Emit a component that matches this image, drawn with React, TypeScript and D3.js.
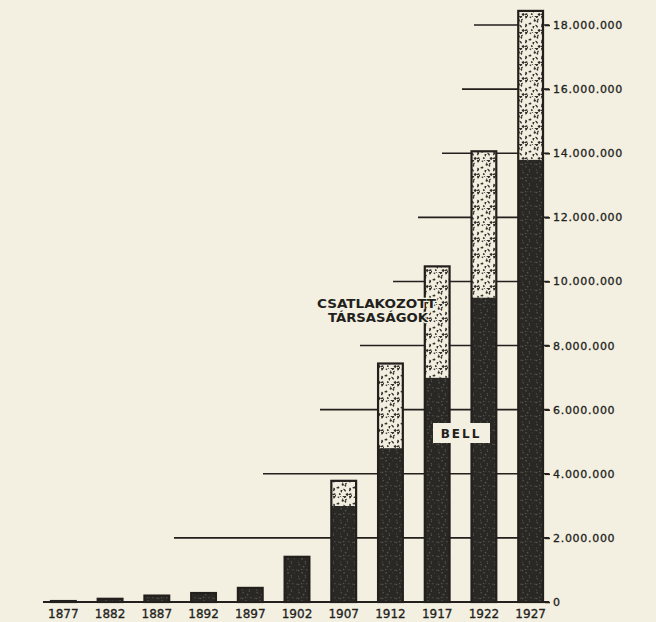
// App.tsx
// stacked bar chart: telephones of the Bell system and connected companies 1877-1927
import * as d3 from 'd3';
import React, { useRef, useEffect } from 'react';

const years = ['1877', '1882', '1887', '1892', '1897', '1902', '1907', '1912', '1917', '1922', '1927'];
// telephones, millions
const bell = [0.03, 0.1, 0.2, 0.28, 0.44, 1.41, 3.0, 4.8, 7.0, 9.5, 13.8];
const connected = [0, 0, 0, 0, 0, 0, 0.78, 2.64, 3.47, 4.56, 4.64];
const tickValues = [0, 2, 4, 6, 8, 10, 12, 14, 16, 18];
const tickLabels = ['0', '2.000.000', '4.000.000', '6.000.000', '8.000.000', '10.000.000', '12.000.000', '14.000.000', '16.000.000', '18.000.000'];

// where the leader lines start on the left (layout, for 2M..18M)
const gridFrom = [174, 263, 320, 360, 393, 418, 442, 462, 474];

const W = 656, H = 622;
const PAPER = '#f3efe1';
const INK = '#221f1c';

function Chart() {
    const ref = useRef<SVGSVGElement>(null);

    useEffect(() => {
        const svg = d3.select(ref.current);
        svg.selectAll('*').remove();

        var x = d3.scaleBand()
            .domain(years)
            .range([40, 554])
            .paddingInner(0.47)
            .paddingOuter(0.235);
        var y = d3.scaleLinear()
            .domain([0, 18])
            .range([602, 25]);

        //textures
        const defs = svg.append('defs');
        var seed = 7;
        const rnd = () => { seed = (seed * 16807) % 2147483647; return seed / 2147483647; };

        const dark = defs.append('pattern').attr('id', 'dark')
            .attr('patternUnits', 'userSpaceOnUse').attr('width', 14).attr('height', 14);
        dark.append('rect').attr('width', 14).attr('height', 14).attr('fill', '#2a2825');
        for (var k = 0; k < 12; k++) {
            dark.append('circle').attr('cx', rnd() * 14).attr('cy', rnd() * 14)
                .attr('r', 0.4 + rnd() * 0.5).attr('fill', '#58544c');
        }
        const dots = defs.append('pattern').attr('id', 'dots')
            .attr('patternUnits', 'userSpaceOnUse').attr('width', 16).attr('height', 16);
        dots.append('rect').attr('width', 16).attr('height', 16).attr('fill', '#f1eddf');
        for (var k = 0; k < 26; k++) {
            dots.append('ellipse')
                .attr('transform', 'translate(' + (rnd() * 16) + ',' + (rnd() * 16) + ') rotate(' + (rnd() * 180) + ')')
                .attr('rx', 0.7 + rnd() * 0.9).attr('ry', 0.5 + rnd() * 0.4)
                .attr('fill', '#2f2c28');
        }

        //leader lines
        svg.append('g').selectAll('line')
            .data(tickValues.slice(1))
            .enter().append('line')
            .attr('x1', (d, i) => gridFrom[i])
            .attr('x2', 549)
            .attr('y1', d => y(d))
            .attr('y2', d => y(d))
            .attr('stroke', INK)
            .attr('stroke-width', 1.6);

        //baseline
        svg.append('line')
            .attr('x1', 43).attr('x2', 549)
            .attr('y1', y(0)).attr('y2', y(0))
            .attr('stroke', INK).attr('stroke-width', 1.8);

        //bars
        const rows = years.map((yr, i) => ({ year: yr, bell: bell[i], connected: connected[i] }));
        const series = d3.stack<any>().keys(['bell', 'connected'])(rows);
        const fills = ['url(#dark)', 'url(#dots)'];

        svg.append('g').selectAll('g')
            .data(series)
            .enter().append('g')
            .attr('fill', (d, i) => fills[i])
            .selectAll('rect')
            .data(d => d.filter(p => p[1] - p[0] > 0))
            .enter().append('rect')
            .attr('x', d => x(d.data.year)!)
            .attr('width', x.bandwidth())
            .attr('y', d => y(d[1]))
            .attr('height', d => y(d[0]) - y(d[1]));

        //bar outlines
        svg.append('g').selectAll('rect')
            .data(rows)
            .enter().append('rect')
            .attr('x', d => x(d.year)! )
            .attr('width', x.bandwidth())
            .attr('y', d => y(d.bell + d.connected))
            .attr('height', d => y(0) - y(d.bell + d.connected))
            .attr('fill', 'none')
            .attr('stroke', INK)
            .attr('stroke-width', 2.2);

        //right axis
        const ax = svg.append('g')
            .attr('transform', 'translate(545,0)')
            .call(d3.axisRight(y).tickValues(tickValues).tickSize(5).tickPadding(3)
                .tickFormat((d, i) => tickLabels[i]));
        ax.select('.domain').remove();
        ax.selectAll('line').attr('stroke', INK).attr('stroke-width', 1.6);
        ax.selectAll('text')
            .attr('fill', INK)
            .attr('font-family', 'DejaVu Sans')
            .attr('font-size', 11)
            .attr('stroke', INK)
            .attr('stroke-width', 0.3)
            .attr('letter-spacing', 0.7);

        //year axis
        const bx = svg.append('g')
            .attr('transform', 'translate(0,' + y(0) + ')')
            .call(d3.axisBottom(x).tickSize(0).tickPadding(7));
        bx.select('.domain').remove();
        bx.selectAll('text')
            .attr('fill', INK)
            .attr('font-family', 'DejaVu Sans')
            .attr('stroke', INK)
            .attr('stroke-width', 0.3)
            .attr('font-size', 12);

        //labels
        const lab = svg.append('g')
            .attr('fill', INK)
            .attr('font-family', 'DejaVu Sans')
            .attr('font-weight', 'bold')
            .attr('font-size', 13)
            .attr('stroke', PAPER)
            .attr('stroke-width', 2.5)
            .attr('paint-order', 'stroke');
        lab.append('text').attr('x', 317).attr('y', 308)
            .attr('textLength', 119).attr('lengthAdjust', 'spacingAndGlyphs')
            .text('CSATLAKOZOTT');
        lab.append('text').attr('x', 328).attr('y', 322)
            .attr('textLength', 100).attr('lengthAdjust', 'spacingAndGlyphs')
            .text('TÁRSASÁGOK');

        svg.append('rect')
            .attr('x', 433).attr('y', 423).attr('width', 57).attr('height', 20)
            .attr('fill', PAPER);
        svg.append('text')
            .attr('x', 461).attr('y', 438)
            .attr('text-anchor', 'middle')
            .attr('fill', INK)
            .attr('font-family', 'DejaVu Sans')
            .attr('font-weight', 'bold')
            .attr('font-size', 12)
            .attr('letter-spacing', 2)
            .text('BELL');
    }, []);

    return (
        <svg ref={ref} width={W} height={H} style={{ display: 'block' }}></svg>
    );
}

export default function App() {
    return (
        <div style={{ position: 'absolute', left: 0, top: 0, width: W, height: H, background: PAPER }}>
            <Chart />
        </div>
    );
}
